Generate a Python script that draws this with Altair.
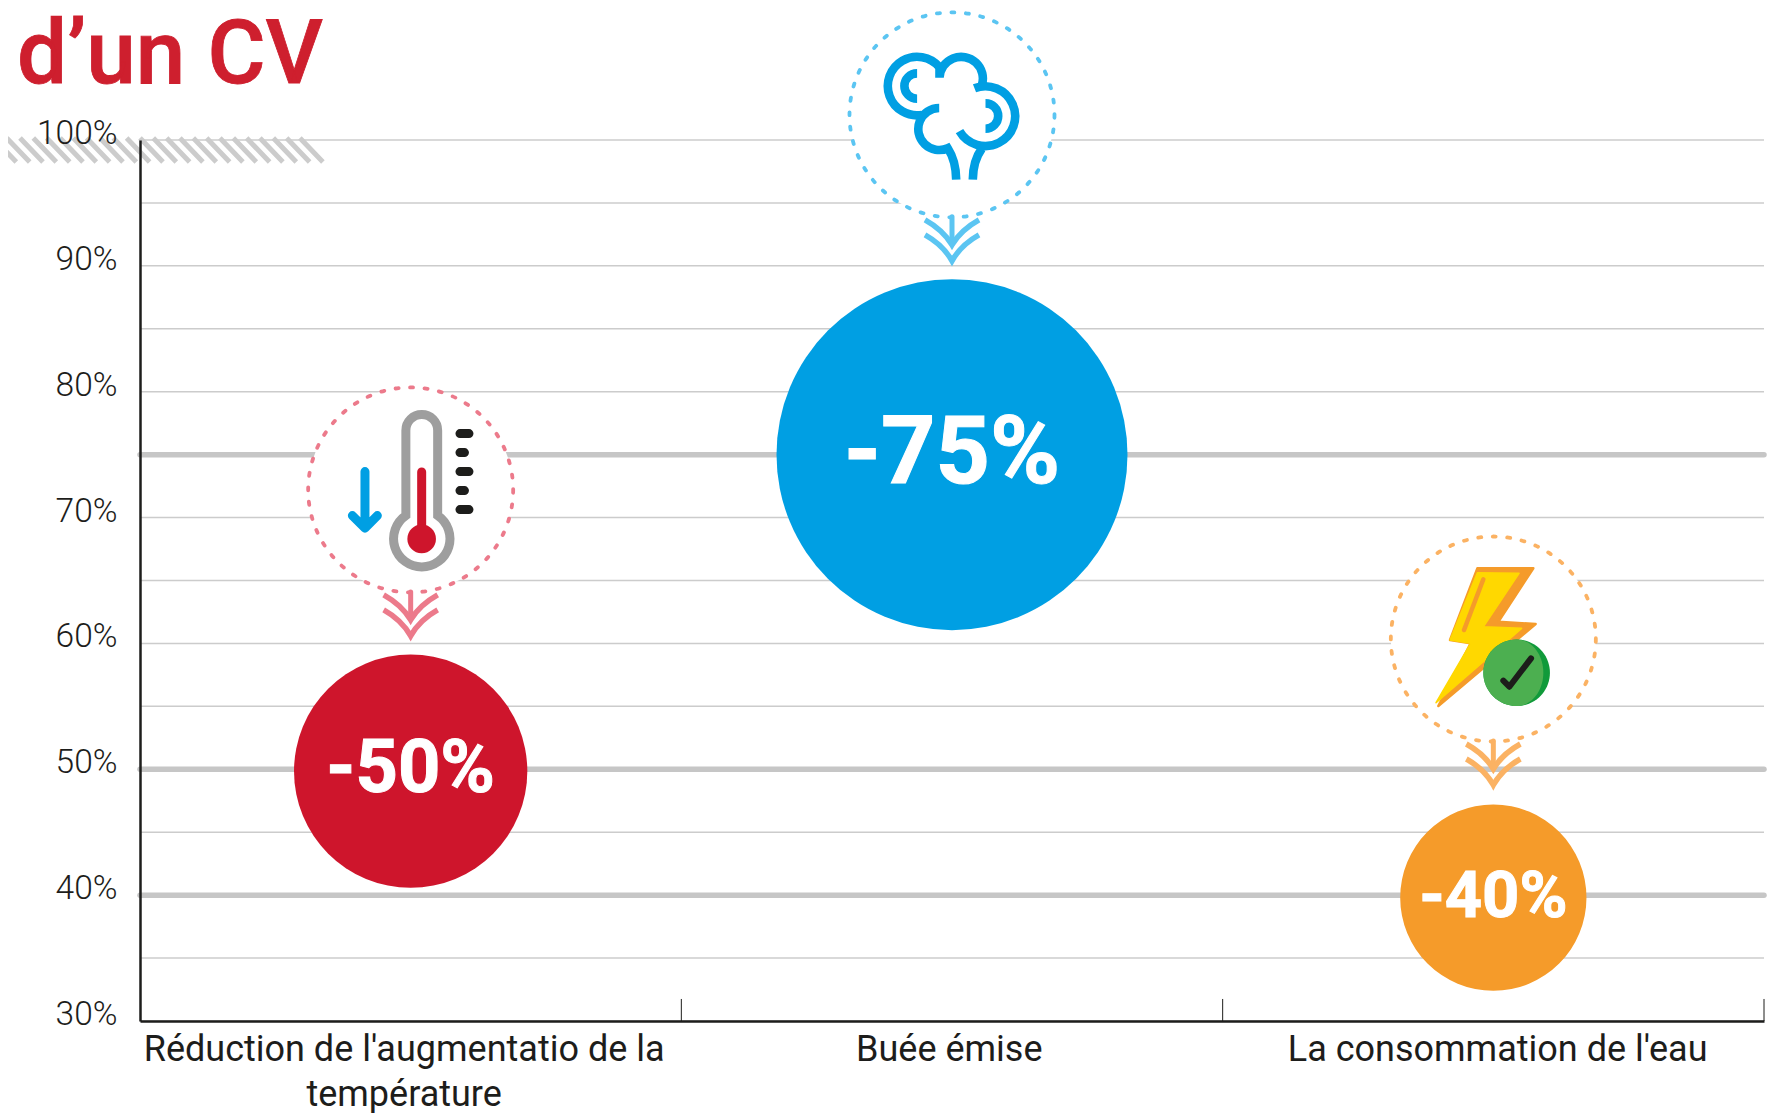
import altair as alt
import pandas as pd

# ---- chart values
chart_title = "d’un CV"
categories = ["Réduction de l'augmentatio de la|température", "Buée émise", "La consommation de l'eau"]
category_pos = [0.5, 1.5, 2.5]
label_pos = [0.487, 1.494, 2.507]
values = [49.85, 75, 39.8]
value_labels = ["-50%", "-75%", "-40%"]
icon_y = [72.2, 102.0, 60.35]
y_ticks = [30, 40, 50, 60, 70, 80, 90, 100]
minor_grid = [30, 35, 40, 45, 50, 55, 60, 65, 70, 75, 80, 85, 90, 95, 100]
major_grid = [40, 50, 75]
x_ticks = [1, 2, 3]

RED, BLUE, ORANGE = "#CE152C", "#009FE3", "#F59B2A"
PALE_RED, PALE_BLUE, PALE_ORANGE = "#EC7A8B", "#5BC5F2", "#FBB263"
INK = "#1D1D1B"

labels_js = "[" + ",".join(
    "[" + ",".join('"%s"' % p for p in c.split("|")) + "]" for c in categories
) + "]"

X_AXIS = alt.Axis(values=label_pos, title=None, ticks=False, grid=False, domainColor=INK, domainWidth=2.5,
                  labelExpr=labels_js + "[floor(datum.value)]", labelFont="Roboto", labelFontSize=36,
                  labelColor=INK, labelPadding=11, labelLineHeight=45, labelOverlap=False, labelBound=False,
                  labelFlush=False, labelLimit=0, zindex=1)
Y_AXIS = alt.Axis(values=y_ticks, title=None, ticks=False, grid=False, domainColor=INK, domainWidth=2.5,
                  labelExpr="datum.value + '%'", labelFont="Roboto", labelFontWeight=300, labelFontSize=33.5,
                  labelColor=INK, labelPadding=23, labelOffset=-6.5, labelOverlap=False, labelBound=False,
                  labelFlush=False, zindex=1)
X = alt.X("x:Q", scale=alt.Scale(domain=[0, 3], nice=False, zero=False), axis=X_AXIS)
Y = alt.Y("y:Q", scale=alt.Scale(domain=[30, 100], nice=False, zero=False), axis=Y_AXIS)

main = pd.DataFrame({"x": category_pos, "y": values, "label": value_labels,
                     "cat": [c.split("|")[0] for c in categories]})
icons = pd.DataFrame({"x": category_pos, "y": icon_y})


def glyph(row, path, stroke=None, fill=None, sw=0, cap="butt", join="miter", size=4):
    kw = dict(shape=path, size=size, opacity=1, strokeCap=cap, strokeJoin=join, strokeWidth=sw)
    if fill:
        kw.update(filled=True, fill=fill)
        if stroke:
            kw["stroke"] = stroke
    else:
        kw.update(filled=False, stroke=stroke)
    return alt.Chart(icons.iloc[[row]]).mark_point(**kw).encode(x=X, y=Y)


def ring(row, color):
    return alt.Chart(icons.iloc[[row]]).mark_point(
        shape="circle", size=42025, filled=True, fill="white", stroke=color, opacity=1,
        strokeWidth=3.8, strokeDash=[3, 11.6], strokeCap="round").encode(x=X, y=Y)


def chevrons(row, color):
    return [
        glyph(row, "M0,102L0,128", color, sw=5, cap="round"),
        glyph(row, "M-27,105Q-9,115 0,130Q9,115 27,105", color, sw=5.5),
        glyph(row, "M-27,120Q-9,130 0,146Q9,130 27,120", color, sw=5.5),
    ]


GREY = "#9E9E9E"
thermo = [
    ring(0, PALE_RED),
    glyph(0, "M-4.8,25.6L-4.8,-59.5A15.8,15.8 0 0 1 27,-59.5L27,25.6A28.2,28.2 0 1 1 -4.8,25.6Z", GREY, sw=9),
    glyph(0, "M11,-18L11,49", RED, sw=9, cap="round"),
    glyph(0, "M-3.3,49A14.3,14.3 0 1 1 25.3,49A14.3,14.3 0 1 1 -3.3,49Z", fill=RED),
    glyph(0, "M49.3,-56.3L58.3,-56.3M49.3,-37.3L53.8,-37.3M49.3,-18.3L58.3,-18.3M49.3,0.7L53.8,0.7M49.3,19.7L58.3,19.7",
          INK, sw=9, cap="round"),
    glyph(0, "M-45.7,-18.3L-45.7,38M-58.3,25.7L-45.7,38.3L-33.3,25.7", BLUE, sw=9, cap="round", join="round"),
] + chevrons(0, PALE_RED)

tree = [
    ring(1, PALE_BLUE),
    glyph(1, "M-12.5,-37.2L-12.5,-47.7M-12.5,-47.7A29.3,29.3 0 1 0 -30,0.1"
             "M-12.8,-6.8A21,21 0 1 0 -4.2,33.4Q4,46 4.2,64.8"
             "M20.8,64.8Q21,46 29.8,33.8"
             "M7.5,16.3A29.85,29.85 0 1 0 22.5,-26.5"
             "M-12.5,-37.2A21.7,21.7 0 1 1 29.8,-29.5"
             "M-34.9,-41.5A12.7,12.7 0 0 0 -34.9,-16.1"
             "M33.5,-11.5A12.7,12.7 0 0 1 33.5,13.9", BLUE, sw=8.6),
] + chevrons(1, PALE_BLUE)

bolt = [
    ring(2, PALE_ORANGE),
    glyph(2, "M-16,-70.7L40,-70.7L5,-17.3L42.3,-15L-55,67L-22.7,4.3L-43.3,1Z", fill=ORANGE, stroke=ORANGE,
          sw=2.5, join="round"),
    glyph(2, "M-16,-66.3L25.7,-65.7L-10,-12.3L28.3,-10.7L-57.3,63.7L-22.7,4.3L-43.3,1Z", fill="#FFD800",
          stroke="#FFD800", sw=1.5, join="round"),
    glyph(2, "M-10,-59.7L-29.3,-9", ORANGE, sw=4.5, cap="round"),
    glyph(2, "M-10,33.7A33.3,33.3 0 1 1 56.6,33.7A33.3,33.3 0 1 1 -10,33.7Z", fill="#109A3A"),
    glyph(2, "M23.3,0.4A33.3,33.3 0 0 0 23.3,67C38,67 50,52 50,33.7C50,15 38,0.4 23.3,0.4Z", fill="#4CAF50"),
    glyph(2, "M10,41.7L16,47.7L37.7,19.3", INK, sw=6, cap="round", join="round"),
] + chevrons(2, PALE_ORANGE)

hatch_path = "".join("M%.1f,-2L%.1f,22" % (-160 + 13.33 * i, -137 + 13.33 * i) for i in range(25))
hatch = alt.Chart(pd.DataFrame({"x": [0], "y": [100]})).mark_point(
    shape=hatch_path, size=4, filled=False, stroke="#CCCCCC", strokeWidth=5, opacity=1).encode(x=X, y=Y)

grid_minor = alt.Chart(pd.DataFrame({"y": minor_grid})).mark_rule(color="#CCCCCC", strokeWidth=1.5).encode(y=Y)
grid_major = alt.Chart(pd.DataFrame({"y": major_grid})).mark_rule(
    color="#C6C6C6", strokeWidth=5.5, strokeCap="round").encode(y=Y)
ticks = alt.Chart(pd.DataFrame({"x": x_ticks, "y": [30] * 3, "y2": [31.75] * 3})).mark_rule(
    color=INK, strokeWidth=1).encode(x=X, y=Y, y2="y2:Q")

bubbles = alt.Chart(main).mark_point(filled=True, opacity=1, shape="circle").encode(
    x=X, y=Y,
    size=alt.Size("y:Q", scale=alt.Scale(type="pow", exponent=2, domain=[0, 100], range=[0, 219024]), legend=None),
    color=alt.Color("cat:N", scale=alt.Scale(domain=[c.split("|")[0] for c in categories],
                                             range=[RED, BLUE, ORANGE]), legend=None),
)
texts = alt.Chart(main).mark_text(font="Roboto", fontWeight=700, color="white", stroke="white", strokeWidth=1,
                                  baseline="middle", dy=-1).encode(
    x=X, y=Y, text="label:N",
    size=alt.Size("y:Q", scale=alt.Scale(domain=[39.8, 49.85, 75], range=[65, 74, 95]), legend=None),
)
title_mark = alt.Chart(pd.DataFrame({"t": [chart_title]})).mark_text(
    font="Roboto", fontWeight=500, fontSize=89, color="#CE1F2E", stroke="#CE1F2E", strokeWidth=0.8,
    align="left", baseline="alphabetic"
).encode(x=alt.value(-123), y=alt.value(-57), text="t:N")

chart = alt.layer(
    grid_minor, grid_major, ticks, hatch, *thermo, *tree, *bolt, bubbles, texts, title_mark
).resolve_scale(size="independent", color="independent").properties(
    width=1624, height=881,
    padding={"left": 132, "top": 132, "right": 6, "bottom": 100},
    autosize=alt.AutoSizeParams(type="none"),
    background="white",
).configure_view(stroke=None)

chart.save("out.html", embed_options={"renderer": "svg", "actions": False})
